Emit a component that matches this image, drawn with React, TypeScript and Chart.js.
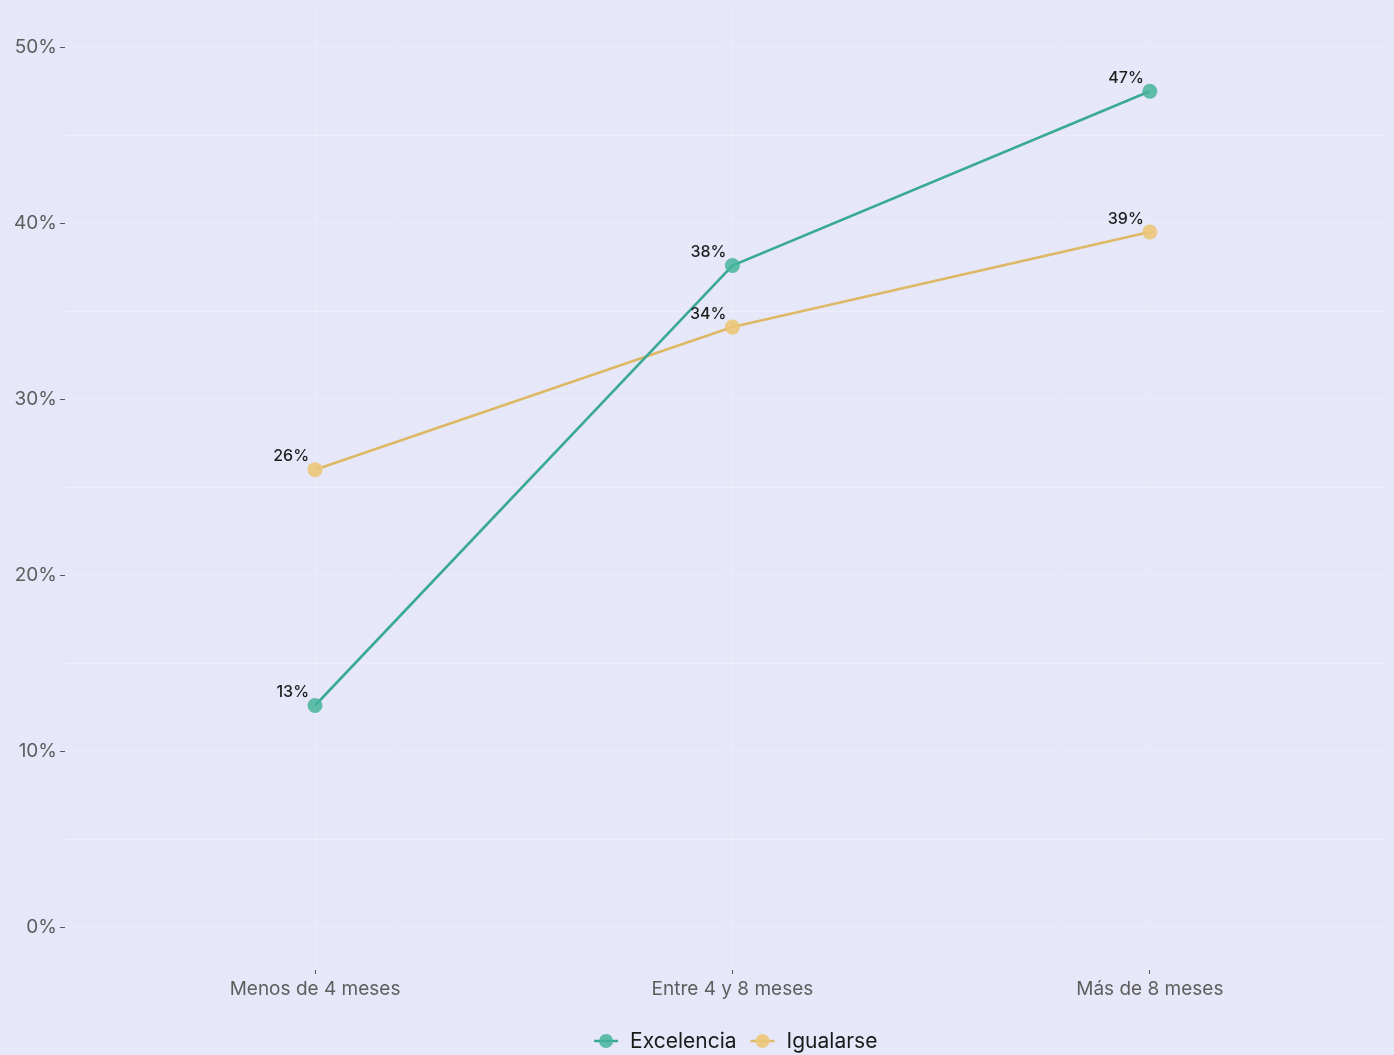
import React, { useEffect, useRef } from "react";
import { Chart, registerables } from "chart.js";

Chart.register(...registerables);

const categories = ["Menos de 4 meses", "Entre 4 y 8 meses", "Más de 8 meses"];
const excelenciaValues = [12.6, 37.6, 47.5];
const igualarseValues = [26.0, 34.1, 39.5];
const excelenciaLabels = ["13%", "38%", "47%"];
const igualarseLabels = ["26%", "34%", "39%"];
const seriesNames = ["Excelencia", "Igualarse"];
const yTicks = [0, 10, 20, 30, 40, 50];

const BG = "#E6E7F8";
const TEAL = "#3BAA95";
const TEAL_PT = "rgba(70,180,155,0.85)";
const GOLD = "#DDB865";
const GOLD_PT = "rgba(236,198,120,0.9)";
const FONT = "Inter, 'Noto Sans', sans-serif";

export default function App() {
  const ref = useRef<HTMLCanvasElement | null>(null);

  useEffect(() => {
    document.body.style.margin = "0";
    document.body.style.background = BG;
    const canvas = ref.current!;
    const labelSets = [excelenciaLabels, igualarseLabels];

    const bgPlugin = {
      id: "bg",
      beforeDraw(chart: any) {
        const { ctx, width, height } = chart;
        ctx.save();
        ctx.fillStyle = BG;
        ctx.fillRect(0, 0, width, height);
        ctx.restore();
      },
    };

    const labelPlugin = {
      id: "pointLabels",
      afterDatasetsDraw(chart: any) {
        const ctx = chart.ctx;
        ctx.save();
        ctx.font = `500 16px ${FONT}`;
        ctx.fillStyle = "#1e1e1e";
        ctx.textAlign = "right";
        ctx.textBaseline = "middle";
        chart.data.datasets.forEach((_ds: any, i: number) => {
          const meta = chart.getDatasetMeta(i);
          meta.data.forEach((pt: any, j: number) => {
            ctx.fillText(labelSets[i][j], pt.x - 6, pt.y - 13);
          });
        });
        ctx.restore();
      },
    };

    const legendPlugin = {
      id: "customLegend",
      afterDraw(chart: any) {
        const ctx = chart.ctx;
        const area = chart.chartArea;
        ctx.save();
        ctx.font = `400 21px ${FONT}`;
        ctx.textBaseline = "middle";
        ctx.textAlign = "left";
        const iconW = 24;
        const items = chart.data.datasets.map((ds: any) => ({
          text: ds.label,
          line: ds.borderColor,
          fill: ds.pointBackgroundColor,
          w: ctx.measureText(ds.label).width,
        }));
        const gapIconText = 12;
        const gapItems = 14;
        let total = 0;
        items.forEach((it: any, i: number) => {
          total += iconW + gapIconText + it.w + (i < items.length - 1 ? gapItems : 0);
        });
        const cx = (area.left + area.right) / 2 + 10;
        const y = chart.height - 14;
        let x = cx - total / 2;
        items.forEach((it: any) => {
          ctx.strokeStyle = it.line;
          ctx.lineWidth = 2.5;
          ctx.beginPath();
          ctx.moveTo(x, y);
          ctx.lineTo(x + iconW, y);
          ctx.stroke();
          ctx.fillStyle = it.fill;
          ctx.beginPath();
          ctx.arc(x + iconW / 2, y, 7, 0, Math.PI * 2);
          ctx.fill();
          x += iconW + gapIconText;
          ctx.fillStyle = "#1a1a1a";
          ctx.fillText(it.text, x, y + 1);
          x += it.w + gapItems;
        });
        ctx.restore();
      },
    };

    const chart = new Chart(canvas, {
      type: "line",
      data: {
        datasets: [
          {
            label: seriesNames[0],
            data: excelenciaValues.map((v, i) => ({ x: i, y: v })),
            borderColor: TEAL,
            backgroundColor: TEAL_PT,
            pointBackgroundColor: TEAL_PT,
            pointBorderWidth: 0,
            pointRadius: 7.5,
            borderWidth: 2.6,
          },
          {
            label: seriesNames[1],
            data: igualarseValues.map((v, i) => ({ x: i, y: v })),
            borderColor: GOLD,
            backgroundColor: GOLD_PT,
            pointBackgroundColor: GOLD_PT,
            pointBorderWidth: 0,
            pointRadius: 7.5,
            borderWidth: 2.6,
          },
        ],
      },
      options: {
        animation: false,
        responsive: false,
        maintainAspectRatio: false,
        layout: { padding: { top: 1, right: 0, left: 0, bottom: 40 } },
        plugins: {
          legend: { display: false },
          tooltip: { enabled: false },
        },
        scales: {
          x: {
            type: "linear",
            min: -0.599,
            max: 2.567,
            afterBuildTicks(scale: any) {
              scale.ticks = categories.map((_c, i) => ({ value: i }));
            },
            afterFit(scale: any) {
              scale.height = 45;
              scale.paddingLeft = 0;
              scale.paddingRight = 0;
            },
            ticks: {
              callback: (v: any) => categories[v as number] ?? "",
              font: { family: FONT, size: 19 },
              color: "#5e5e5e",
              padding: 4,
              maxRotation: 0,
            },
            grid: {
              color: "rgba(255,255,255,0.2)",
              tickColor: "#555555",
              tickLength: 4,
              lineWidth: 1,
            },
            border: { display: false },
          },
          y: {
            type: "linear",
            min: -2.43,
            max: 52.26,
            afterBuildTicks(scale: any) {
              const t: any[] = [];
              for (let v = 0; v <= 50; v += 5) t.push({ value: v });
              scale.ticks = t;
            },
            afterFit(scale: any) {
              scale.width = 65;
              scale.paddingTop = 0;
              scale.paddingBottom = 0;
            },
            ticks: {
              callback: (v: any) => (yTicks.includes(v as number) ? `${v}%` : ""),
              font: { family: FONT, size: 19 },
              color: "#5e5e5e",
              padding: 3,
            },
            grid: {
              color: (c: any) =>
                c.tick && c.tick.value % 10 === 0 ? "rgba(255,255,255,0.2)" : "rgba(255,255,255,0.3)",
              tickColor: (c: any) =>
                c.tick && c.tick.value % 10 === 0 ? "#555555" : "rgba(0,0,0,0)",
              tickLength: 5,
              lineWidth: 1,
            },
            border: { display: false },
          },
        },
      },
      plugins: [bgPlugin, labelPlugin, legendPlugin],
    });

    return () => chart.destroy();
  }, []);

  return (
    <div style={{ position: "absolute", left: 0, top: 0, width: 1394, height: 1055 }}>
      <canvas ref={ref} width={1394} height={1055} style={{ width: 1394, height: 1055 }} />
    </div>
  );
}
